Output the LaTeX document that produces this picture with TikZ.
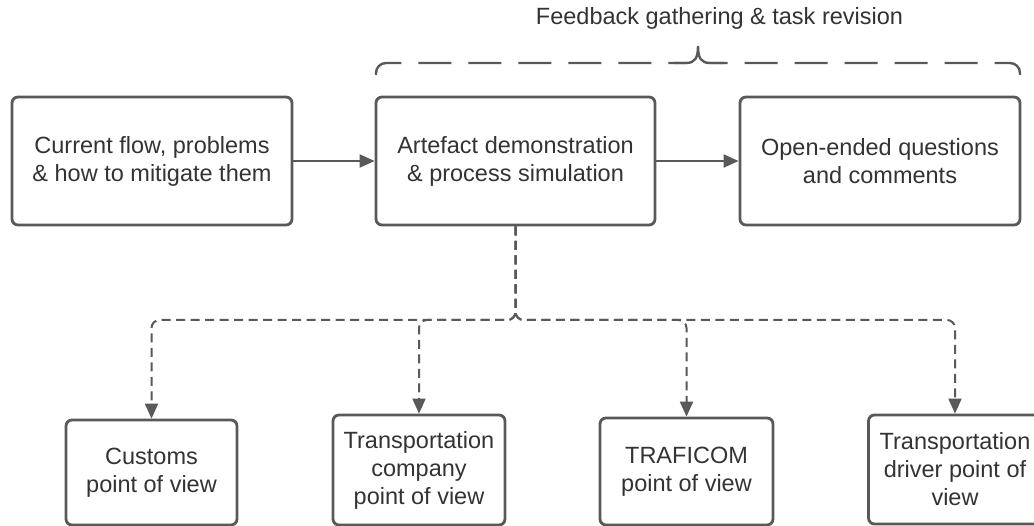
\documentclass[tikz,border=0pt]{standalone}
\usepackage{fontspec}
\setmainfont{Liberation Sans}
\usetikzlibrary{arrows.meta}
\definecolor{linegray}{HTML}{595959}
\definecolor{textgray}{HTML}{333333}
\begin{document}
\begin{tikzpicture}[x=1pt,y=-1pt,
  box/.style={draw=linegray, line width=2.8pt, rounded corners=6pt, fill=white,
    text=textgray, align=center, font=\fontsize{23.5}{28}\selectfont, inner sep=0pt},
  conn/.style={draw=linegray, line width=2pt, -{Triangle[length=15pt,width=13pt]}},
  dconn/.style={conn, dash pattern=on 9pt off 5.5pt, rounded corners=8pt},
  bracestyle/.style={draw=linegray, line width=2.4pt}
]
\useasboundingbox (0,0) rectangle (1034,526);
\fill[white] (0,0) rectangle (1034,526);

% top row
\node[box, minimum width=280pt, minimum height=128pt] (b1) at (152,161) {Current flow, problems\\\& how to mitigate them};
\node[box, minimum width=279pt, minimum height=128pt] (b2) at (515.5,161) {Artefact demonstration\\\& process simulation};
\node[box, minimum width=280pt, minimum height=128pt] (b3) at (880,161) {Open-ended questions\\and comments};

% bottom row
\node[box, minimum width=171pt, minimum height=105pt] (c1) at (151.5,472.5) {Customs\\point of view};
\node[box, minimum width=172pt, minimum height=110pt] (c2) at (419,470) {Transportation\\company\\point of view};
\node[box, minimum width=173pt, minimum height=107pt] (c3) at (686.5,471.5) {TRAFICOM\\point of view};
\node[box, minimum width=173pt, minimum height=109pt] (c4) at (955,469.5) {Transportation\\driver point of\\view};

% title and brace
\node[text=textgray, font=\fontsize{23.5}{28}\selectfont, anchor=base, inner sep=0pt] (title) at (719.5,25) {Feedback gathering \& task revision};
\coordinate (brL) at (376,75);
\coordinate (brR) at (1020,75);
\coordinate (brTip) at (698,46);
\coordinate (brLm) at (686,63);
\coordinate (brRm) at (710,63);
\draw[bracestyle, dash pattern=on 33pt off 17pt, rounded corners=10pt] (brL) |- (brLm);
\draw[bracestyle, dash pattern=on 33pt off 17pt, rounded corners=10pt] (brR) |- (brRm);
\draw[bracestyle] ([xshift=-12pt]brLm) -- (brLm) .. controls (695,63) and (698,58) .. (brTip)
   .. controls (698,58) and (701,63) .. (brRm) -- ([xshift=14pt]brRm);

% connectors
\draw[conn] (b1.east) -- (b2.west);
\draw[conn] (b2.east) -- (b3.west);
\coordinate (split) at (515.5,320);
\draw[dconn] (b2.south) -- (split) -| (c1.north);
\draw[dconn] (b2.south) -- (split) -| (c2.north);
\draw[dconn] (b2.south) -- (split) -| (c3.north);
\draw[dconn] (b2.south) -- (split) -| (c4.north);
\end{tikzpicture}
\end{document}
